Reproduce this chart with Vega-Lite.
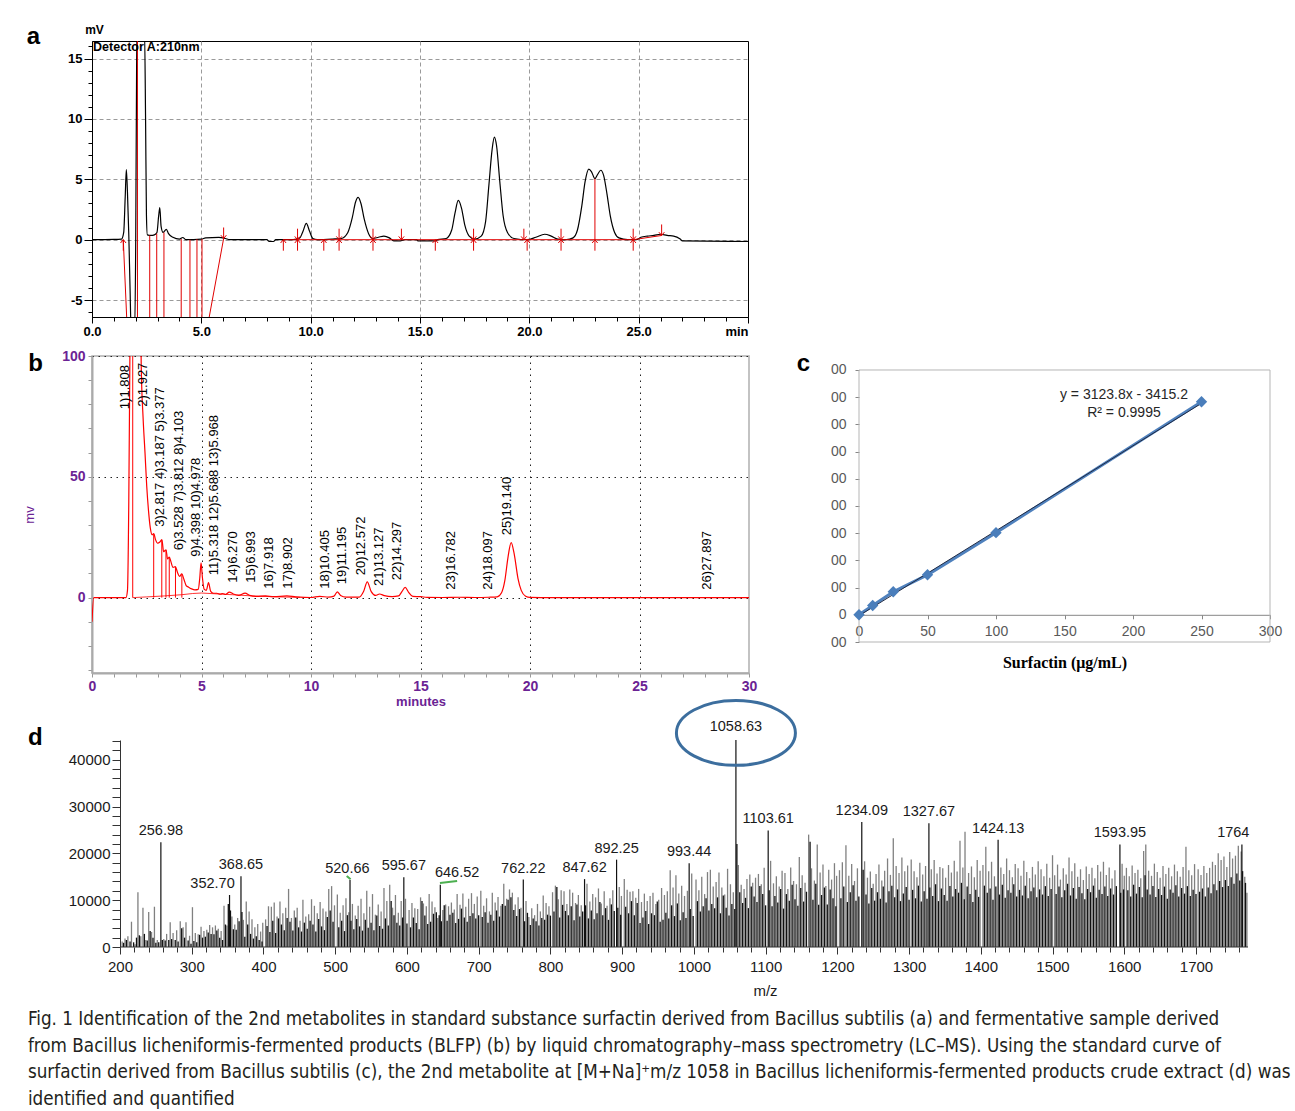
{
"$schema": "https://vega.github.io/schema/vega-lite/v6.json",
"background": "white",
"padding": {"left": 22, "top": 22, "right": 5, "bottom": 5},
"config": {"view": {"stroke": null}, "font": "Liberation Sans", "axis": {"labelFont": "Liberation Sans", "titleFont": "Liberation Sans", "labelOverlap": false, "labelFlush": false}},
"title": {"text": ["Fig. 1  Identification of the 2nd metabolites in standard substance surfactin derived from Bacillus subtilis (a) and fermentative sample derived", "from Bacillus licheniformis-fermented products (BLFP) (b) by liquid chromatography–mass spectrometry (LC–MS). Using the standard curve of", "surfactin derived from Bacillus subtilis (c), the 2nd metabolite at [M+Na]⁺m/z 1058 in Bacillus licheniformis-fermented products crude extract (d) was", "identified and quantified"], "orient": "bottom", "anchor": "start", "frame": "bounds", "dx": 5, "font": "Liberation Sans Narrow, DejaVu Sans Condensed, Liberation Sans", "fontSize": 18.7, "fontWeight": "normal", "color": "#231f20", "lineHeight": 26.5, "offset": 12},
"datasets": {
"a_trace": [{"t":0,"v":0},{"t":1.0,"v":0.02},{"t":1.35,"v":0.05},{"t":1.45,"v":0.6},{"t":1.52,"v":3.6},{"t":1.57,"v":5.8},{"t":1.62,"v":4.0},{"t":1.68,"v":0.6},{"t":1.74,"v":-4},{"t":1.79,"v":-7.5},{"t":1.95,"v":-7.5},{"t":2.0,"v":0},{"t":2.04,"v":14.3},{"t":2.06,"v":17.5},{"t":2.4,"v":17.5},{"t":2.45,"v":10},{"t":2.49,"v":2},{"t":2.53,"v":0.4},{"t":2.7,"v":0.35},{"t":2.85,"v":0.4},{"t":2.97,"v":0.6},{"t":3.05,"v":2.0},{"t":3.1,"v":2.65},{"t":3.16,"v":1.1},{"t":3.25,"v":0.6},{"t":3.4,"v":0.85},{"t":3.5,"v":0.5},{"t":3.7,"v":0.2},{"t":4.0,"v":0.05},{"t":4.15,"v":0.18},{"t":4.3,"v":0.0},{"t":5.0,"v":0.05},{"t":5.2,"v":0.15},{"t":5.8,"v":0.2},{"t":6.1,"v":0.1},{"t":6.3,"v":0.0},{"t":8.0,"v":0.0},{"t":8.1,"v":-0.15},{"t":8.3,"v":-0.15},{"t":8.4,"v":0.0},{"t":9.2,"v":0.0},{"t":9.5,"v":0.15},{"t":9.65,"v":0.7},{"t":9.8,"v":1.35},{"t":9.95,"v":0.7},{"t":10.1,"v":0.1},{"t":10.3,"v":0.0},{"t":11.0,"v":0.05},{"t":11.4,"v":0.1},{"t":11.7,"v":0.6},{"t":11.9,"v":1.8},{"t":12.05,"v":3.1},{"t":12.17,"v":3.5},{"t":12.3,"v":3.0},{"t":12.45,"v":1.7},{"t":12.65,"v":0.5},{"t":12.85,"v":0.1},{"t":13.1,"v":0.2},{"t":13.35,"v":0.3},{"t":13.6,"v":0.15},{"t":13.8,"v":-0.1},{"t":14.1,"v":-0.1},{"t":14.3,"v":0.0},{"t":14.85,"v":0.0},{"t":14.9,"v":-0.1},{"t":15.7,"v":-0.1},{"t":15.8,"v":0.0},{"t":16.2,"v":0.1},{"t":16.45,"v":0.8},{"t":16.6,"v":2.2},{"t":16.75,"v":3.25},{"t":16.9,"v":2.6},{"t":17.05,"v":1.2},{"t":17.25,"v":0.3},{"t":17.5,"v":0.05},{"t":17.8,"v":0.3},{"t":18.0,"v":1.5},{"t":18.15,"v":4.5},{"t":18.3,"v":7.5},{"t":18.4,"v":8.5},{"t":18.5,"v":7.8},{"t":18.65,"v":4.8},{"t":18.8,"v":2.0},{"t":19.0,"v":0.6},{"t":19.3,"v":0.1},{"t":19.9,"v":0.0},{"t":20.3,"v":0.2},{"t":20.7,"v":0.45},{"t":21.0,"v":0.3},{"t":21.3,"v":0.05},{"t":21.7,"v":0.0},{"t":22.0,"v":0.15},{"t":22.2,"v":0.8},{"t":22.4,"v":2.8},{"t":22.55,"v":4.8},{"t":22.72,"v":5.85},{"t":22.85,"v":5.6},{"t":23.0,"v":5.05},{"t":23.12,"v":5.4},{"t":23.27,"v":5.75},{"t":23.4,"v":5.3},{"t":23.55,"v":3.8},{"t":23.7,"v":2.0},{"t":23.9,"v":0.6},{"t":24.1,"v":0.15},{"t":24.5,"v":0.0},{"t":24.9,"v":0.0},{"t":25.1,"v":0.2},{"t":25.4,"v":0.3},{"t":25.7,"v":0.35},{"t":26.0,"v":0.45},{"t":26.3,"v":0.35},{"t":26.6,"v":0.3},{"t":26.9,"v":0.05},{"t":27.0,"v":-0.1},{"t":30,"v":-0.15}],
"a_rules": [{"t":1.43,"t2":1.6,"v":0,"v2":-7},{"t":2.08,"t2":2.08,"v":17,"v2":-7},{"t":2.64,"t2":2.64,"v":0.35,"v2":-7},{"t":2.96,"t2":2.96,"v":0.5,"v2":-7},{"t":3.29,"t2":3.29,"v":0.6,"v2":-7},{"t":4.08,"t2":4.08,"v":0.05,"v2":-7},{"t":4.48,"t2":4.48,"v":0,"v2":-7},{"t":4.8,"t2":4.8,"v":0.05,"v2":-7},{"t":5.03,"t2":5.03,"v":0.05,"v2":-7},{"t":5.3,"t2":6.02,"v":-7,"v2":0.1},{"t":23.0,"t2":23.0,"v":0,"v2":5.05},{"t":8.75,"t2":24.75,"v":0,"v2":0},{"t":24.75,"t2":26.05,"v":0,"v2":0.35}],
"a_up": [{"t":1.43,"v":0},{"t":8.75,"v":0},{"t":9.4,"v":0},{"t":10.6,"v":0},{"t":11.3,"v":0},{"t":12.85,"v":0},{"t":15.7,"v":0},{"t":17.45,"v":0},{"t":19.9,"v":0},{"t":21.45,"v":0},{"t":23.0,"v":0},{"t":24.75,"v":0}],
"a_down": [{"t":6.02,"v":0.1},{"t":9.4,"v":0},{"t":11.3,"v":0},{"t":12.85,"v":0},{"t":14.15,"v":0},{"t":17.45,"v":0},{"t":19.75,"v":0},{"t":21.45,"v":0},{"t":24.75,"v":0},{"t":26.05,"v":0.35}],
"a_text": [{"t":0.05,"v":15.95,"s":"Detector A:210nm"}],
"b_trace": [{"t":0,"v":-10},{"t":0.08,"v":0},{"t":1.55,"v":0},{"t":1.62,"v":3},{"t":1.68,"v":40},{"t":1.73,"v":100},{"t":1.76,"v":130},{"t":2.2,"v":130},{"t":2.25,"v":95},{"t":2.33,"v":75},{"t":2.42,"v":60},{"t":2.5,"v":46},{"t":2.58,"v":36},{"t":2.66,"v":29},{"t":2.75,"v":26},{"t":2.82,"v":26.5},{"t":2.9,"v":24},{"t":3.0,"v":22.5},{"t":3.1,"v":23},{"t":3.19,"v":24},{"t":3.27,"v":19},{"t":3.33,"v":19.5},{"t":3.38,"v":19.8},{"t":3.45,"v":16},{"t":3.53,"v":16.8},{"t":3.6,"v":15},{"t":3.7,"v":12.5},{"t":3.81,"v":12.8},{"t":3.9,"v":10.5},{"t":4.0,"v":8.8},{"t":4.1,"v":9.8},{"t":4.2,"v":7.5},{"t":4.3,"v":5},{"t":4.4,"v":4.4},{"t":4.55,"v":3.6},{"t":4.7,"v":3.2},{"t":4.85,"v":3.4},{"t":4.92,"v":8},{"t":4.98,"v":14.4},{"t":5.04,"v":8.5},{"t":5.12,"v":3.5},{"t":5.22,"v":3.0},{"t":5.32,"v":6.2},{"t":5.42,"v":2.6},{"t":5.55,"v":1.8},{"t":5.7,"v":1.8},{"t":5.85,"v":1.4},{"t":5.97,"v":1.7},{"t":6.1,"v":1.3},{"t":6.27,"v":2.3},{"t":6.45,"v":1.5},{"t":6.7,"v":0.9},{"t":6.99,"v":1.9},{"t":7.2,"v":0.9},{"t":7.5,"v":0.5},{"t":7.92,"v":0.7},{"t":8.3,"v":0.4},{"t":8.9,"v":0.7},{"t":9.3,"v":0.3},{"t":9.7,"v":0.1},{"t":10.0,"v":0.05},{"t":10.4,"v":0.5},{"t":10.8,"v":0.2},{"t":11.05,"v":0.6},{"t":11.2,"v":2.4},{"t":11.35,"v":0.9},{"t":11.6,"v":0.2},{"t":12.2,"v":0.2},{"t":12.4,"v":2.5},{"t":12.57,"v":6.5},{"t":12.75,"v":2.5},{"t":12.95,"v":0.9},{"t":13.13,"v":1.5},{"t":13.35,"v":0.8},{"t":13.7,"v":0.4},{"t":14.0,"v":0.7},{"t":14.15,"v":2.5},{"t":14.3,"v":4.2},{"t":14.45,"v":2.3},{"t":14.65,"v":0.5},{"t":15.0,"v":0.4},{"t":15.3,"v":0.1},{"t":16.0,"v":0.05},{"t":16.78,"v":0.15},{"t":17.5,"v":0.05},{"t":18.1,"v":0.15},{"t":18.5,"v":0.3},{"t":18.7,"v":2},{"t":18.85,"v":7},{"t":19.0,"v":17},{"t":19.14,"v":22.8},{"t":19.28,"v":18},{"t":19.45,"v":8},{"t":19.6,"v":3},{"t":19.8,"v":0.6},{"t":20.0,"v":0.1},{"t":21,"v":0},{"t":30,"v":0}],
"b_base2": [{"t":1.86,"v":0},{"t":2.5,"v":0.3},{"t":3.3,"v":0.7},{"t":4.1,"v":1.2},{"t":4.6,"v":1.7},{"t":5.0,"v":1.9},{"t":5.6,"v":1.6},{"t":6.4,"v":1.2},{"t":7.5,"v":0.6},{"t":8.5,"v":0.3},{"t":9.5,"v":0.1}],
"b_drops": [{"t":1.86,"v":100},{"t":2.817,"v":26.3},{"t":3.187,"v":23.9},{"t":3.377,"v":19.7},{"t":3.528,"v":16.7},{"t":3.812,"v":12.7},{"t":4.103,"v":9.7}],
"b_labels": [{"t":1.52,"v":78,"s":"1)1.808"},{"t":2.32,"v":79,"s":"2)1.927"},{"t":3.1,"v":29.3,"s":"3)2.817 4)3.187 5)3.377"},{"t":3.96,"v":19.6,"s":"6)3.528 7)3.812 8)4.103"},{"t":4.75,"v":16.9,"s":"9)4.398 10)4.978"},{"t":5.58,"v":9.3,"s":"11)5.318 12)5.688 13)5.968"},{"t":6.42,"v":6.2,"s":"14)6.270"},{"t":7.27,"v":6.2,"s":"15)6.993"},{"t":8.1,"v":3.7,"s":"16)7.918"},{"t":8.95,"v":3.7,"s":"17)8.902"},{"t":10.63,"v":3.7,"s":"18)10.405"},{"t":11.43,"v":5.5,"s":"19)11.195"},{"t":12.28,"v":9.3,"s":"20)12.572"},{"t":13.1,"v":4.8,"s":"21)13.127"},{"t":13.94,"v":7.2,"s":"22)14.297"},{"t":16.4,"v":3.3,"s":"23)16.782"},{"t":18.06,"v":3.3,"s":"24)18.097"},{"t":18.95,"v":25.8,"s":"25)19.140"},{"t":28.1,"v":3.3,"s":"26)27.897"}],
"c_pts": [{"x":0,"y":0},{"x":10,"y":34000},{"x":25,"y":85000},{"x":50,"y":147000},{"x":100,"y":302000},{"x":250,"y":783000}],
"c_trend": [{"x":0,"y":-3415.2},{"x":250,"y":777534.8}],
"c_frame": [{"x":0,"x2":300,"y":900000,"y2":900000},{"x":300,"x2":300,"y":-100000,"y2":900000},{"x":0,"x2":300,"y":-100000,"y2":-100000},{"x":0,"x2":0,"y":-100000,"y2":900000}],
"c_text": [{"x":193.4,"y":808800,"s":"y = 3123.8x - 3415.2"},{"x":193.4,"y":742600,"s":"R² = 0.9995"}],
"d_grey": [{"m":203,"i":1200},{"m":207,"i":1800},{"m":211,"i":2300},{"m":216,"i":5400},{"m":221,"i":600},{"m":225,"i":11700},{"m":229,"i":2300},{"m":232,"i":8400},{"m":236,"i":1500},{"m":240,"i":7500},{"m":244,"i":3200},{"m":248,"i":8600},{"m":252,"i":1500},{"m":261,"i":1700},{"m":265,"i":2800},{"m":270,"i":5300},{"m":274,"i":3000},{"m":279,"i":3600},{"m":284,"i":5500},{"m":288,"i":4200},{"m":292,"i":5300},{"m":297,"i":2400},
{"m":301,"i":8500},{"m":305,"i":3000},{"m":309,"i":2700},{"m":313,"i":4300},{"m":317,"i":3400},{"m":321,"i":3700},{"m":325,"i":4700},{"m":329,"i":4200},{"m":333,"i":4600},{"m":337,"i":3900},{"m":341,"i":3400},{"m":345,"i":8800},{"m":349,"i":4600},{"m":356,"i":6500},{"m":360,"i":4800},{"m":364,"i":6200},{"m":372,"i":5800},{"m":376,"i":9700},{"m":380,"i":7600},{"m":384,"i":5900},{"m":388,"i":4200},{"m":392,"i":4900},{"m":396,"i":3300},{"m":399,"i":5200},
{"m":403,"i":5900},{"m":407,"i":8700},{"m":411,"i":8600},{"m":415,"i":9500},{"m":419,"i":6500},{"m":423,"i":9700},{"m":427,"i":7200},{"m":431,"i":8400},{"m":435,"i":12400},{"m":439,"i":6200},{"m":443,"i":7800},{"m":447,"i":8400},{"m":451,"i":5600},{"m":455,"i":10100},{"m":459,"i":6500},{"m":463,"i":7000},{"m":467,"i":10200},{"m":471,"i":8800},{"m":475,"i":7200},{"m":479,"i":9600},{"m":483,"i":8200},{"m":487,"i":7600},{"m":491,"i":12400},{"m":495,"i":13000},{"m":499,"i":8900},
{"m":503,"i":11200},{"m":507,"i":7300},{"m":511,"i":8900},{"m":515,"i":10400},{"m":519,"i":7400},{"m":524,"i":9200},{"m":528,"i":6700},{"m":532,"i":8800},{"m":536,"i":10300},{"m":540,"i":7200},{"m":544,"i":12000},{"m":548,"i":8600},{"m":552,"i":11300},{"m":556,"i":6900},{"m":560,"i":9100},{"m":564,"i":7600},{"m":568,"i":12600},{"m":572,"i":9800},{"m":576,"i":13300},{"m":580,"i":8400},{"m":584,"i":11100},{"m":588,"i":7300},{"m":592,"i":9800},{"m":598,"i":10300},
{"m":603,"i":7900},{"m":607,"i":9400},{"m":611,"i":8300},{"m":615,"i":8100},{"m":619,"i":10600},{"m":623,"i":9300},{"m":627,"i":8700},{"m":631,"i":11300},{"m":635,"i":9700},{"m":639,"i":8500},{"m":643,"i":6200},{"m":650,"i":7900},{"m":654,"i":9100},{"m":658,"i":8700},{"m":662,"i":9500},{"m":666,"i":8000},{"m":670,"i":11300},{"m":674,"i":9000},{"m":678,"i":11400},{"m":682,"i":8600},{"m":686,"i":10300},{"m":690,"i":11500},{"m":694,"i":9200},{"m":698,"i":10800},
{"m":703,"i":12000},{"m":707,"i":8800},{"m":711,"i":10400},{"m":715,"i":7600},{"m":719,"i":11600},{"m":723,"i":9500},{"m":727,"i":10700},{"m":731,"i":8800},{"m":735,"i":13500},{"m":739,"i":10300},{"m":743,"i":12300},{"m":747,"i":11600},{"m":751,"i":9100},{"m":755,"i":10600},{"m":759,"i":8400},{"m":766,"i":9800},{"m":770,"i":6400},{"m":774,"i":8300},{"m":778,"i":6800},{"m":782,"i":9200},{"m":786,"i":7600},{"m":790,"i":11000},{"m":794,"i":9400},{"m":798,"i":8700},
{"m":803,"i":11700},{"m":807,"i":13100},{"m":811,"i":10200},{"m":815,"i":12100},{"m":819,"i":11900},{"m":823,"i":9200},{"m":827,"i":12300},{"m":831,"i":11600},{"m":835,"i":9400},{"m":839,"i":11100},{"m":843,"i":8900},{"m":851,"i":13500},{"m":855,"i":9700},{"m":859,"i":11300},{"m":863,"i":10600},{"m":867,"i":12500},{"m":871,"i":9300},{"m":875,"i":11900},{"m":879,"i":8800},{"m":883,"i":10400},{"m":887,"i":12100},{"m":896,"i":12800},{"m":899,"i":10900},
{"m":903,"i":14500},{"m":907,"i":12200},{"m":911,"i":11800},{"m":915,"i":11900},{"m":919,"i":10500},{"m":923,"i":12400},{"m":927,"i":9600},{"m":931,"i":11400},{"m":935,"i":9800},{"m":939,"i":10900},{"m":943,"i":11600},{"m":947,"i":9200},{"m":951,"i":10100},{"m":955,"i":12600},{"m":959,"i":11100},{"m":963,"i":11900},{"m":967,"i":16400},{"m":971,"i":12700},{"m":975,"i":15300},{"m":979,"i":11400},{"m":983,"i":13100},{"m":987,"i":10900},{"m":991,"i":12000},{"m":997,"i":15700},
{"m":1003,"i":14400},{"m":1007,"i":12100},{"m":1011,"i":15000},{"m":1015,"i":11300},{"m":1019,"i":16000},{"m":1023,"i":16500},{"m":1027,"i":12900},{"m":1031,"i":13900},{"m":1035,"i":15900},{"m":1039,"i":12700},{"m":1043,"i":11200},{"m":1047,"i":16700},{"m":1051,"i":13400},{"m":1055,"i":11700},{"m":1062,"i":17500},{"m":1066,"i":13300},{"m":1070,"i":12400},{"m":1074,"i":14500},{"m":1078,"i":15500},{"m":1082,"i":13700},{"m":1086,"i":14800},{"m":1090,"i":15600},{"m":1094,"i":13400},{"m":1098,"i":16900},
{"m":1107,"i":18400},{"m":1111,"i":13600},{"m":1115,"i":15100},{"m":1119,"i":12900},{"m":1123,"i":16300},{"m":1127,"i":15800},{"m":1131,"i":12400},{"m":1135,"i":17000},{"m":1139,"i":14100},{"m":1143,"i":13400},{"m":1147,"i":19200},{"m":1151,"i":15300},{"m":1155,"i":13700},{"m":1160,"i":24000},{"m":1164,"i":16800},{"m":1168,"i":14200},{"m":1172,"i":21900},{"m":1176,"i":15900},{"m":1180,"i":17600},{"m":1184,"i":13000},{"m":1188,"i":16500},{"m":1192,"i":14400},{"m":1196,"i":17900},{"m":1199,"i":15200},
{"m":1203,"i":16400},{"m":1207,"i":18100},{"m":1212,"i":21700},{"m":1216,"i":15200},{"m":1220,"i":17700},{"m":1224,"i":14100},{"m":1228,"i":16800},{"m":1238,"i":18300},{"m":1242,"i":14800},{"m":1246,"i":16100},{"m":1250,"i":13500},{"m":1254,"i":15600},{"m":1258,"i":17600},{"m":1262,"i":14200},{"m":1266,"i":16300},{"m":1270,"i":18900},{"m":1274,"i":15400},{"m":1278,"i":23200},{"m":1282,"i":17300},{"m":1286,"i":15800},{"m":1290,"i":19100},{"m":1294,"i":16200},{"m":1298,"i":17400},
{"m":1303,"i":18700},{"m":1307,"i":16200},{"m":1311,"i":14900},{"m":1315,"i":18000},{"m":1319,"i":15500},{"m":1323,"i":17300},{"m":1331,"i":16600},{"m":1335,"i":18600},{"m":1339,"i":15700},{"m":1343,"i":17100},{"m":1347,"i":16800},{"m":1351,"i":14800},{"m":1355,"i":17500},{"m":1359,"i":15900},{"m":1363,"i":18400},{"m":1367,"i":16100},{"m":1371,"i":22700},{"m":1375,"i":17000},{"m":1378,"i":24600},{"m":1383,"i":15800},{"m":1387,"i":17200},{"m":1391,"i":14900},{"m":1395,"i":18600},{"m":1399,"i":16300},
{"m":1403,"i":17500},{"m":1407,"i":21400},{"m":1411,"i":16200},{"m":1415,"i":18200},{"m":1419,"i":15100},{"m":1428,"i":17000},{"m":1432,"i":15600},{"m":1436,"i":18900},{"m":1440,"i":16400},{"m":1444,"i":14900},{"m":1448,"i":17700},{"m":1452,"i":16800},{"m":1456,"i":15200},{"m":1460,"i":18400},{"m":1464,"i":16000},{"m":1468,"i":14700},{"m":1472,"i":17100},{"m":1476,"i":15500},{"m":1480,"i":18300},{"m":1484,"i":16600},{"m":1488,"i":15100},{"m":1492,"i":17800},{"m":1496,"i":14800},{"m":1500,"i":19600},
{"m":1503,"i":15300},{"m":1507,"i":17600},{"m":1511,"i":14400},{"m":1515,"i":16800},{"m":1519,"i":15500},{"m":1523,"i":19100},{"m":1527,"i":16200},{"m":1531,"i":17900},{"m":1535,"i":15000},{"m":1539,"i":16600},{"m":1543,"i":14300},{"m":1547,"i":17200},{"m":1551,"i":15600},{"m":1555,"i":16900},{"m":1559,"i":14700},{"m":1563,"i":17500},{"m":1567,"i":16100},{"m":1571,"i":18200},{"m":1575,"i":15400},{"m":1579,"i":17000},{"m":1583,"i":14600},{"m":1587,"i":16400},{"m":1597,"i":17800},{"m":1600,"i":15200},
{"m":1603,"i":16900},{"m":1607,"i":15100},{"m":1611,"i":17400},{"m":1615,"i":15800},{"m":1619,"i":16500},{"m":1623,"i":14700},{"m":1627,"i":20500},{"m":1630,"i":21900},{"m":1634,"i":16300},{"m":1638,"i":15200},{"m":1642,"i":17800},{"m":1646,"i":16000},{"m":1650,"i":14800},{"m":1654,"i":17300},{"m":1658,"i":15600},{"m":1662,"i":16900},{"m":1666,"i":15100},{"m":1670,"i":17600},{"m":1674,"i":16200},{"m":1678,"i":15000},{"m":1682,"i":17100},{"m":1686,"i":21400},{"m":1690,"i":16400},{"m":1694,"i":15300},{"m":1698,"i":17700},
{"m":1703,"i":16600},{"m":1707,"i":15400},{"m":1711,"i":17300},{"m":1715,"i":15800},{"m":1719,"i":16900},{"m":1723,"i":18200},{"m":1727,"i":17500},{"m":1731,"i":20000},{"m":1735,"i":18600},{"m":1739,"i":19300},{"m":1743,"i":17100},{"m":1747,"i":20300},{"m":1751,"i":18900},{"m":1755,"i":19500},{"m":1759,"i":21600},{"m":1763,"i":20400},{"m":1768,"i":15000},{"m":1771,"i":11600}],
"d_black": [{"m":205,"i":900},{"m":209,"i":1500},{"m":214,"i":1200},{"m":219,"i":1000},{"m":223,"i":2000},{"m":227,"i":2500},{"m":234,"i":2800},{"m":238,"i":1400},{"m":242,"i":3400},{"m":246,"i":2000},{"m":250,"i":900},{"m":254,"i":1000},{"m":259,"i":1500},{"m":263,"i":1400},{"m":268,"i":1500},{"m":272,"i":1700},{"m":277,"i":1500},{"m":281,"i":1200},{"m":286,"i":4000},{"m":290,"i":2000},{"m":295,"i":1400},{"m":299,"i":700},
{"m":303,"i":1300},{"m":307,"i":1000},{"m":311,"i":2600},{"m":315,"i":2000},{"m":319,"i":2200},{"m":323,"i":3100},{"m":327,"i":2800},{"m":331,"i":2700},{"m":335,"i":3500},{"m":339,"i":2000},{"m":343,"i":1500},{"m":347,"i":4800},{"m":351,"i":9200},{"m":354,"i":7800},{"m":358,"i":3800},{"m":362,"i":3700},{"m":366,"i":5500},{"m":370,"i":7500},{"m":374,"i":2200},{"m":378,"i":4800},{"m":382,"i":2800},{"m":386,"i":1800},{"m":390,"i":2300},{"m":394,"i":1500},{"m":398,"i":1200},
{"m":405,"i":4500},{"m":409,"i":3200},{"m":413,"i":5600},{"m":417,"i":3000},{"m":421,"i":6100},{"m":425,"i":4800},{"m":429,"i":3600},{"m":433,"i":6200},{"m":437,"i":5400},{"m":441,"i":3500},{"m":445,"i":6300},{"m":449,"i":4200},{"m":453,"i":3300},{"m":457,"i":5200},{"m":461,"i":3900},{"m":465,"i":5600},{"m":469,"i":4800},{"m":473,"i":3300},{"m":477,"i":6000},{"m":481,"i":4400},{"m":485,"i":3600},{"m":489,"i":6400},{"m":493,"i":7800},{"m":497,"i":5400},
{"m":505,"i":4200},{"m":509,"i":5600},{"m":513,"i":3400},{"m":517,"i":6800},{"m":522,"i":5600},{"m":526,"i":3800},{"m":530,"i":6000},{"m":534,"i":4400},{"m":538,"i":3500},{"m":542,"i":5800},{"m":546,"i":4100},{"m":550,"i":5200},{"m":554,"i":3600},{"m":558,"i":6700},{"m":562,"i":4500},{"m":566,"i":3900},{"m":570,"i":6100},{"m":574,"i":4600},{"m":578,"i":9800},{"m":582,"i":6800},{"m":586,"i":5200},{"m":590,"i":4600},{"m":594,"i":6300},{"m":600,"i":5000},
{"m":605,"i":4200},{"m":609,"i":6300},{"m":613,"i":5100},{"m":617,"i":3800},{"m":621,"i":9800},{"m":625,"i":6700},{"m":629,"i":4900},{"m":633,"i":5400},{"m":637,"i":7100},{"m":641,"i":7400},{"m":645,"i":6800},{"m":648,"i":5500},{"m":652,"i":8900},{"m":656,"i":5600},{"m":660,"i":6900},{"m":664,"i":7300},{"m":668,"i":5100},{"m":672,"i":6000},{"m":676,"i":8200},{"m":680,"i":6300},{"m":684,"i":5400},{"m":688,"i":6600},{"m":692,"i":7200},{"m":696,"i":6100},{"m":700,"i":6800},
{"m":705,"i":6400},{"m":709,"i":7400},{"m":713,"i":5200},{"m":717,"i":6900},{"m":721,"i":5600},{"m":725,"i":7800},{"m":729,"i":6500},{"m":733,"i":9200},{"m":737,"i":8800},{"m":741,"i":10100},{"m":745,"i":10600},{"m":749,"i":7900},{"m":753,"i":6600},{"m":757,"i":8100},{"m":764,"i":5500},{"m":768,"i":7300},{"m":772,"i":4700},{"m":776,"i":6100},{"m":780,"i":5500},{"m":784,"i":4600},{"m":788,"i":6200},{"m":792,"i":5800},{"m":796,"i":6900},{"m":800,"i":6700},
{"m":805,"i":7600},{"m":809,"i":12800},{"m":813,"i":6300},{"m":817,"i":9000},{"m":821,"i":7700},{"m":825,"i":6800},{"m":829,"i":8700},{"m":833,"i":5700},{"m":837,"i":9100},{"m":841,"i":6500},{"m":845,"i":7600},{"m":849,"i":8900},{"m":853,"i":6100},{"m":857,"i":7800},{"m":861,"i":5900},{"m":865,"i":7200},{"m":869,"i":9600},{"m":873,"i":6800},{"m":877,"i":8300},{"m":881,"i":5800},{"m":885,"i":9100},{"m":889,"i":7700},{"m":894,"i":8400},{"m":898,"i":6900},
{"m":905,"i":8600},{"m":909,"i":7200},{"m":913,"i":9800},{"m":917,"i":6800},{"m":921,"i":9400},{"m":925,"i":5100},{"m":929,"i":6300},{"m":933,"i":7700},{"m":937,"i":4900},{"m":941,"i":7200},{"m":945,"i":6800},{"m":949,"i":9700},{"m":953,"i":5400},{"m":957,"i":5800},{"m":961,"i":7300},{"m":965,"i":6100},{"m":969,"i":8900},{"m":973,"i":6600},{"m":977,"i":9300},{"m":981,"i":5700},{"m":985,"i":7400},{"m":989,"i":6200},{"m":995,"i":8100},{"m":999,"i":6600},
{"m":1005,"i":9800},{"m":1009,"i":7600},{"m":1013,"i":8700},{"m":1017,"i":10400},{"m":1021,"i":7800},{"m":1025,"i":9200},{"m":1029,"i":8300},{"m":1033,"i":10600},{"m":1037,"i":7200},{"m":1041,"i":11000},{"m":1045,"i":8400},{"m":1049,"i":6700},{"m":1053,"i":9200},{"m":1057,"i":8100},{"m":1060,"i":22000},{"m":1064,"i":11700},{"m":1068,"i":9400},{"m":1072,"i":10500},{"m":1076,"i":8300},{"m":1080,"i":12900},{"m":1084,"i":10800},{"m":1088,"i":9600},{"m":1092,"i":13000},{"m":1096,"i":11300},{"m":1100,"i":8900},
{"m":1105,"i":12100},{"m":1109,"i":8700},{"m":1113,"i":10900},{"m":1117,"i":9500},{"m":1121,"i":12400},{"m":1125,"i":8200},{"m":1129,"i":11300},{"m":1133,"i":9900},{"m":1137,"i":13300},{"m":1141,"i":10200},{"m":1145,"i":8800},{"m":1149,"i":12600},{"m":1153,"i":9700},{"m":1157,"i":11800},{"m":1162,"i":22500},{"m":1166,"i":10100},{"m":1170,"i":13500},{"m":1174,"i":9000},{"m":1178,"i":11100},{"m":1182,"i":12700},{"m":1186,"i":9100},{"m":1190,"i":12300},{"m":1194,"i":10400},{"m":1198,"i":8700},
{"m":1205,"i":10400},{"m":1209,"i":12900},{"m":1214,"i":9600},{"m":1218,"i":11700},{"m":1222,"i":13200},{"m":1226,"i":9900},{"m":1230,"i":10800},{"m":1236,"i":16500},{"m":1240,"i":11200},{"m":1244,"i":9300},{"m":1248,"i":12600},{"m":1252,"i":9900},{"m":1256,"i":11700},{"m":1260,"i":10300},{"m":1264,"i":12900},{"m":1268,"i":9500},{"m":1272,"i":11900},{"m":1276,"i":13100},{"m":1280,"i":10600},{"m":1284,"i":12300},{"m":1288,"i":9800},{"m":1292,"i":11400},{"m":1296,"i":12800},{"m":1300,"i":10100},
{"m":1305,"i":12200},{"m":1309,"i":10400},{"m":1313,"i":13100},{"m":1317,"i":9700},{"m":1321,"i":11900},{"m":1325,"i":10300},{"m":1329,"i":12700},{"m":1333,"i":10900},{"m":1337,"i":13400},{"m":1341,"i":9800},{"m":1345,"i":12500},{"m":1349,"i":11100},{"m":1353,"i":9900},{"m":1357,"i":13000},{"m":1361,"i":10800},{"m":1365,"i":12400},{"m":1369,"i":11600},{"m":1373,"i":13700},{"m":1377,"i":10200},{"m":1381,"i":12900},{"m":1385,"i":11300},{"m":1389,"i":9600},{"m":1393,"i":12200},{"m":1397,"i":10700},
{"m":1405,"i":13100},{"m":1409,"i":11600},{"m":1413,"i":12500},{"m":1417,"i":10100},{"m":1421,"i":12900},{"m":1426,"i":11200},{"m":1430,"i":13300},{"m":1434,"i":10500},{"m":1438,"i":12100},{"m":1442,"i":11600},{"m":1446,"i":13400},{"m":1450,"i":10800},{"m":1454,"i":12200},{"m":1458,"i":11000},{"m":1462,"i":13100},{"m":1466,"i":10400},{"m":1470,"i":11900},{"m":1474,"i":12700},{"m":1478,"i":10600},{"m":1482,"i":12300},{"m":1486,"i":11200},{"m":1490,"i":13000},{"m":1494,"i":10900},{"m":1498,"i":12400},
{"m":1505,"i":11300},{"m":1509,"i":12900},{"m":1513,"i":10600},{"m":1517,"i":12100},{"m":1521,"i":13500},{"m":1525,"i":11000},{"m":1529,"i":12600},{"m":1533,"i":10300},{"m":1537,"i":12800},{"m":1541,"i":11500},{"m":1545,"i":10200},{"m":1549,"i":12400},{"m":1553,"i":11700},{"m":1557,"i":13100},{"m":1561,"i":10500},{"m":1565,"i":12200},{"m":1569,"i":11300},{"m":1573,"i":12900},{"m":1577,"i":10900},{"m":1581,"i":12500},{"m":1585,"i":11200},{"m":1589,"i":13000},{"m":1595,"i":11600},{"m":1599,"i":12300},
{"m":1605,"i":12100},{"m":1609,"i":10800},{"m":1613,"i":13300},{"m":1617,"i":11400},{"m":1621,"i":12800},{"m":1625,"i":10600},{"m":1629,"i":15300},{"m":1632,"i":12300},{"m":1636,"i":11200},{"m":1640,"i":13000},{"m":1644,"i":10700},{"m":1648,"i":12400},{"m":1652,"i":11100},{"m":1656,"i":12900},{"m":1660,"i":10300},{"m":1664,"i":12300},{"m":1668,"i":11600},{"m":1672,"i":13200},{"m":1676,"i":10800},{"m":1680,"i":12600},{"m":1684,"i":11400},{"m":1688,"i":13000},{"m":1692,"i":10900},{"m":1696,"i":12200},{"m":1700,"i":11300},
{"m":1705,"i":11800},{"m":1709,"i":12500},{"m":1713,"i":10800},{"m":1717,"i":12700},{"m":1721,"i":11500},{"m":1725,"i":13400},{"m":1729,"i":12100},{"m":1733,"i":14100},{"m":1737,"i":12800},{"m":1741,"i":14300},{"m":1745,"i":13000},{"m":1749,"i":14900},{"m":1753,"i":13500},{"m":1757,"i":15700},{"m":1761,"i":14200},{"m":1765,"i":16200},{"m":1769,"i":13700}],
"d_peaks": [{"m":256.98,"i":22350},{"m":352.70,"i":11100},{"m":368.65,"i":15100},{"m":520.66,"i":14300},{"m":595.67,"i":14900},{"m":646.52,"i":13300},{"m":762.22,"i":14400},{"m":847.62,"i":14500},{"m":892.25,"i":18650},{"m":993.44,"i":17900},{"m":1058.63,"i":44200},{"m":1103.61,"i":24900},{"m":1234.09,"i":26700},{"m":1327.67,"i":26400},{"m":1424.13,"i":22900},{"m":1593.95,"i":21900},{"m":1764,"i":21900}],
"d_labels": [{"m":256.98,"i":22350,"s":"256.98"},{"m":329,"i":11100,"s":"352.70"},{"m":368.65,"i":15100,"s":"368.65"},{"m":517,"i":14300,"s":"520.66"},{"m":595.67,"i":14900,"s":"595.67"},{"m":670,"i":13400,"s":"646.52"},{"m":762.22,"i":14400,"s":"762.22"},{"m":847.62,"i":14500,"s":"847.62"},{"m":892.25,"i":18650,"s":"892.25"},{"m":993.44,"i":17900,"s":"993.44"},{"m":1103.61,"i":24900,"s":"1103.61"},{"m":1234.09,"i":26700,"s":"1234.09"},{"m":1327.67,"i":26400,"s":"1327.67"},{"m":1424.13,"i":22900,"s":"1424.13"},{"m":1593.95,"i":21900,"s":"1593.95"},{"m":1752,"i":21900,"s":"1764"}],
"d_circle": [{"m":1058.63,"i":45720,"s":"1058.63"}],
"d_green": [{"m":646,"m2":670,"i":13660,"i2":14090},{"m":516,"m2":521.5,"i":15150,"i2":14450}],
"d_axis": [{"m":200,"m2":1772.5,"i":0}]
},
"spacing": 9,
"vconcat": [
{
"width": 656, "height": 276,
"view": {"stroke": "#000", "strokeWidth": 1},
"title": {"text": "a", "orient": "left", "anchor": "end", "frame": "group", "angle": 0, "align": "right", "baseline": "alphabetic", "offset": 14, "dy": 3, "fontSize": 24, "fontWeight": "bold", "color": "#000"},
"encoding": {
"x": {"field": "t", "type": "quantitative", "scale": {"domain": [0, 30], "nice": false, "zero": false}, "axis": {"values": [0,1,2,3,4,5,6,7,8,9,10,11,12,13,14,15,16,17,18,19,20,21,22,23,24,25,26,27,28,29,30], "title": null, "labelExpr": "datum.value % 5 === 0 ? (datum.value === 30 ? 'min' : format(datum.value, '.1f')) : ''", "labelAlign": {"condition": {"test": "datum.value === 30", "value": "right"}, "value": "center"}, "labelFontWeight": "bold", "labelFontSize": 13, "labelColor": "#000", "labelPadding": 2, "tickColor": "#000", "tickSize": {"condition": {"test": "datum.value % 5 === 0", "value": 6}, "value": 4}, "domainColor": "#000", "grid": true, "gridColor": "#9a9a9a", "gridDash": [4, 3], "gridOpacity": {"condition": {"test": "datum.value % 5 === 0 && datum.value > 0 && datum.value < 30", "value": 1}, "value": 0}}},
"y": {"field": "v", "type": "quantitative", "scale": {"domain": [-6.4, 16.45], "nice": false, "zero": false}, "axis": {"values": [-6,-5,-4,-3,-2,-1,0,1,2,3,4,5,6,7,8,9,10,11,12,13,14,15,16], "title": "mV", "titleAngle": 0, "titleX": 2, "titleY": -5, "titleAlign": "center", "titleBaseline": "bottom", "titleFontWeight": "bold", "titleFontSize": 12, "titleColor": "#000", "labelExpr": "datum.value % 5 === 0 ? '' + datum.value : ''", "labelFontWeight": "bold", "labelFontSize": 13, "labelColor": "#000", "labelPadding": 2, "tickColor": "#000", "tickSize": {"condition": {"test": "datum.value % 5 === 0", "value": 8}, "value": 4}, "domainColor": "#000", "grid": true, "gridColor": "#9a9a9a", "gridDash": [4, 3], "gridOpacity": {"condition": {"test": "datum.value % 5 === 0", "value": 1}, "value": 0}}}
},
"layer": [
{"data": {"name": "a_trace"}, "mark": {"type": "line", "color": "#000", "strokeWidth": 1.2, "clip": true, "interpolate": "monotone"}},
{"data": {"name": "a_rules"}, "mark": {"type": "rule", "color": "#e00000", "strokeWidth": 1, "clip": true}, "encoding": {"x2": {"field": "t2"}, "y2": {"field": "v2"}}},
{"data": {"name": "a_up"}, "mark": {"type": "point", "shape": "M0,1L0,-1M-0.5,-0.4L0,-1L0.5,-0.4", "size": 121, "filled": false, "stroke": "#e00000", "strokeWidth": 1, "yOffset": 5.5, "opacity": 1}},
{"data": {"name": "a_down"}, "mark": {"type": "point", "shape": "M0,-1L0,1M-0.5,0.4L0,1L0.5,0.4", "size": 121, "filled": false, "stroke": "#e00000", "strokeWidth": 1, "yOffset": -5.5, "opacity": 1}},
{"data": {"name": "a_text"}, "mark": {"type": "text", "align": "left", "baseline": "middle", "fontSize": 12.5, "fontWeight": "bold", "color": "#000"}, "encoding": {"text": {"field": "s"}}}
]
},
{
"spacing": -15,
"vconcat": [
{
"spacing": 38,
"hconcat": [
{
"width": 657, "height": 317,
"view": {"stroke": "#b0b0b0", "strokeWidth": 1.5},
"title": {"text": "b", "orient": "left", "anchor": "end", "frame": "group", "angle": 0, "align": "right", "baseline": "alphabetic", "offset": -34, "dy": 15, "fontSize": 24, "fontWeight": "bold", "color": "#000"},
"encoding": {
"x": {"field": "t", "type": "quantitative", "scale": {"domain": [0, 30], "nice": false, "zero": false}, "axis": {"values": [0,1,2,3,4,5,6,7,8,9,10,11,12,13,14,15,16,17,18,19,20,21,22,23,24,25,26,27,28,29,30], "title": "minutes", "titleColor": "#6b2394", "titleFontWeight": "bold", "titleFontSize": 13, "titlePadding": 2, "labelExpr": "datum.value % 5 === 0 ? '' + datum.value : ''", "labelColor": "#6b2394", "labelFontWeight": "bold", "labelFontSize": 14, "labelPadding": 2, "tickColor": "#999", "tickSize": 4, "domainColor": "#aaa", "domainWidth": 2, "grid": true, "gridColor": "#222", "gridDash": [1.5, 4.5], "gridOpacity": {"condition": {"test": "datum.value % 5 === 0 && datum.value > 0 && datum.value < 30", "value": 1}, "value": 0}}},
"y": {"field": "v", "type": "quantitative", "scale": {"domain": [-31.2, 100], "nice": false, "zero": false}, "axis": {"values": [-30,-20,-10,0,10,20,30,40,50,60,70,80,90,100], "title": "mv", "titleColor": "#6b2394", "titleFontWeight": "normal", "titleFontSize": 13, "titlePadding": 25, "labelExpr": "datum.value % 50 === 0 ? '' + datum.value : ''", "labelColor": "#6b2394", "labelFontWeight": "bold", "labelFontSize": 14, "labelPadding": 3, "tickColor": "#999", "tickSize": 4, "domainColor": "#aaa", "domainWidth": 2, "grid": true, "gridColor": "#222", "gridDash": [1.5, 4.5], "gridOpacity": {"condition": {"test": "datum.value % 50 === 0", "value": 1}, "value": 0}}}
},
"layer": [
{"data": {"name": "b_base2"}, "mark": {"type": "line", "color": "#ff0000", "strokeWidth": 0.8, "clip": true}},
{"data": {"name": "b_drops"}, "mark": {"type": "rule", "color": "#ff0000", "strokeWidth": 1, "clip": true}, "encoding": {"y2": {"datum": 0}}},
{"data": {"name": "b_trace"}, "mark": {"type": "line", "color": "#ff0000", "strokeWidth": 1.2, "clip": true, "interpolate": "monotone"}},
{"data": {"name": "b_labels"}, "mark": {"type": "text", "angle": 270, "align": "left", "baseline": "middle", "fontSize": 13, "color": "#000"}, "encoding": {"text": {"field": "s"}}}
]
},
{
"width": 411, "height": 286,
"title": {"text": "c", "orient": "left", "anchor": "end", "frame": "group", "angle": 0, "align": "right", "baseline": "alphabetic", "offset": 7, "dy": 15, "fontSize": 24, "fontWeight": "bold", "color": "#000"},
"encoding": {
"x": {"field": "x", "type": "quantitative", "scale": {"domain": [0, 300], "nice": false, "zero": false}, "axis": {"values": [0,50,100,150,200,250,300], "offset": -27.2, "title": "Surfactin (μg/mL)", "titleFont": "Liberation Serif", "titleFontWeight": "bold", "titleFontSize": 16, "titleColor": "#000", "titlePadding": 16, "labelColor": "#595959", "labelFontSize": 14, "labelPadding": 6, "tickColor": "#868686", "tickSize": 4, "domainColor": "#868686", "grid": false}},
"y": {"field": "y", "type": "quantitative", "scale": {"domain": [-100000, 951470], "nice": false, "zero": false}, "axis": {"values": [-100000,0,100000,200000,300000,400000,500000,600000,700000,800000,900000], "title": null, "domain": false, "labelExpr": "datum.value === 0 ? '0' : '00'", "labelColor": "#595959", "labelFontSize": 14, "labelPadding": 9, "tickColor": "#868686", "tickSize": 4, "grid": false}}
},
"layer": [
{"data": {"name": "c_frame"}, "mark": {"type": "rule", "color": "#b5b5b5", "strokeWidth": 1}, "encoding": {"x2": {"field": "x2"}, "y2": {"field": "y2"}}},
{"data": {"name": "c_pts"}, "mark": {"type": "line", "color": "#4f81bd", "strokeWidth": 3}},
{"data": {"name": "c_trend"}, "mark": {"type": "line", "color": "#1f2a44", "strokeWidth": 1}},
{"data": {"name": "c_pts"}, "mark": {"type": "point", "shape": "diamond", "filled": true, "color": "#4a7ebb", "size": 130, "opacity": 1}},
{"data": {"name": "c_text"}, "mark": {"type": "text", "align": "center", "baseline": "middle", "fontSize": 14, "color": "#262626"}, "encoding": {"text": {"field": "s"}}}
]
}
]
},
{
"width": 1156, "height": 207,
"title": {"text": "d", "orient": "left", "anchor": "end", "frame": "group", "angle": 0, "align": "right", "baseline": "alphabetic", "offset": 11, "dy": 5, "fontSize": 24, "fontWeight": "bold", "color": "#000"},
"encoding": {
"x": {"field": "m", "type": "quantitative", "scale": {"domain": [160.97, 1772.5], "nice": false, "zero": false}, "axis": {"values": [200,220,240,260,280,300,320,340,360,380,400,420,440,460,480,500,520,540,560,580,600,620,640,660,680,700,720,740,760,780,800,820,840,860,880,900,920,940,960,980,1000,1020,1040,1060,1080,1100,1120,1140,1160,1180,1200,1220,1240,1260,1280,1300,1320,1340,1360,1380,1400,1420,1440,1460,1480,1500,1520,1540,1560,1580,1600,1620,1640,1660,1680,1700,1720,1740,1760], "domain": false, "title": "m/z", "titleX": 673, "titleY": 43, "titleAlign": "center", "titleBaseline": "middle", "titleFontWeight": "normal", "titleFontSize": 15, "titleColor": "#1a1a1a", "labelExpr": "datum.value % 100 === 0 ? '' + datum.value : ''", "labelFontSize": 15, "labelColor": "#1a1a1a", "labelPadding": 5, "tickColor": "#333", "tickSize": {"condition": {"test": "datum.value % 100 === 0", "value": 7}, "value": 5}, "grid": false}},
"y": {"field": "i", "type": "quantitative", "scale": {"domain": [0, 44200], "nice": false, "zero": false}, "axis": {"values": [0,2000,4000,6000,8000,10000,12000,14000,16000,18000,20000,22000,24000,26000,28000,30000,32000,34000,36000,38000,40000,42000,44000], "offset": -28, "title": null, "labelExpr": "datum.value % 10000 === 0 ? '' + datum.value : ''", "labelFontSize": 15, "labelColor": "#1a1a1a", "labelPadding": 2, "tickColor": "#333", "tickSize": 8, "domainColor": "#333", "grid": false}}
},
"layer": [
{"data": {"name": "d_grey"}, "mark": {"type": "rule", "color": "#808080", "strokeWidth": 1.3}, "encoding": {"y2": {"datum": 0}}},
{"data": {"name": "d_black"}, "mark": {"type": "rule", "color": "#111111", "strokeWidth": 1.3}, "encoding": {"y2": {"datum": 0}}},
{"data": {"name": "d_peaks"}, "mark": {"type": "rule", "color": "#111111", "strokeWidth": 1.2}, "encoding": {"y2": {"datum": 0}}},
{"data": {"name": "d_axis"}, "mark": {"type": "rule", "color": "#333", "strokeWidth": 1}, "encoding": {"x2": {"field": "m2"}}},
{"data": {"name": "d_green"}, "mark": {"type": "rule", "color": "#4caf50", "strokeWidth": 2}, "encoding": {"x2": {"field": "m2"}, "y2": {"field": "i2"}}},
{"data": {"name": "d_labels"}, "mark": {"type": "text", "align": "center", "baseline": "bottom", "dy": -4, "fontSize": 14.5, "color": "#1a1a1a"}, "encoding": {"text": {"field": "s"}}},
{"data": {"name": "d_circle"}, "mark": {"type": "point", "shape": "M-1,0C-1,-0.3 -0.552,-0.546 0,-0.546C0.552,-0.546 1,-0.3 1,0C1,0.3 0.552,0.546 0,0.546C-0.552,0.546 -1,0.3 -1,0Z", "size": 14161, "filled": false, "stroke": "#3c6e9e", "strokeWidth": 3, "opacity": 1}},
{"data": {"name": "d_circle"}, "mark": {"type": "text", "align": "center", "baseline": "middle", "dy": -6, "fontSize": 14.5, "color": "#1a1a1a"}, "encoding": {"text": {"field": "s"}}}
]
}
]
}
]
}
